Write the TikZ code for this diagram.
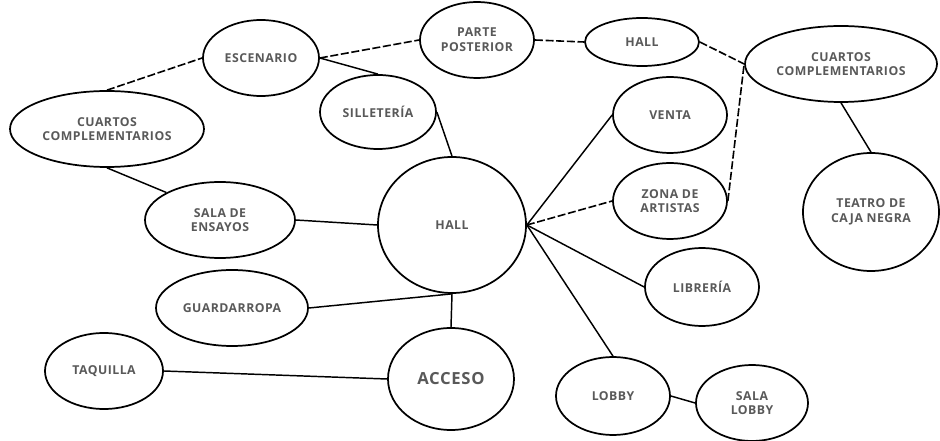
\documentclass[tikz,border=0pt]{standalone}
\usepackage{fontspec}
\setmainfont{Open Sans}[LetterSpace=4]
\usepackage{tikz}
\usetikzlibrary{shapes.geometric}

\begin{document}
\begin{tikzpicture}[x=0.75pt,y=-0.75pt]
    \tikzset{area/.style = {shape=ellipse, draw, line width=1.3pt, inner sep=0pt, align=center, text=black!65, font=\fontsize{9.2}{11}\selectfont\bfseries}}
    \tikzset{edgeun/.style = {-, line width=1.1pt}}
    \tikzset{edgedash/.style = {-, line width=1.2pt, dash pattern=on 6pt off 2pt}}

    \useasboundingbox (0,0) rectangle (940,441);

    \node[area, minimum width=87pt, minimum height=57pt] (escenario) at (261, 58) {ESCENARIO};
    \node[area, minimum width=85.5pt, minimum height=57pt] (parte) at (477, 40) {PARTE\\POSTERIOR};
    \node[area, minimum width=85.5pt, minimum height=36pt] (hallB) at (642, 42) {HALL};
    \node[area, minimum width=144pt, minimum height=57pt] (cuartosB) at (841, 64) {CUARTOS\\COMPLEMENTARIOS};
    \node[area, minimum width=145.5pt, minimum height=57pt] (cuartosA) at (107, 129) {CUARTOS\\COMPLEMENTARIOS};
    \node[area, minimum width=87pt, minimum height=55.5pt] (silleteria) at (378, 112) {SILLETERÍA};
    \node[area, minimum width=85.5pt, minimum height=57pt] (venta) at (670, 115) {VENTA};
    \node[area, minimum width=85.5pt, minimum height=57pt] (zona) at (670, 201) {ZONA DE\\ARTISTAS};
    \node[area, minimum width=102pt, minimum height=88.5pt] (teatro) at (871, 212) {TEATRO DE\\CAJA NEGRA};
    \node[area, minimum width=111pt, minimum height=102pt] (hall) at (452, 225) {HALL};
    \node[area, minimum width=112.5pt, minimum height=57pt] (ensayos) at (220, 220) {SALA DE\\ENSAYOS};
    \node[area, minimum width=114pt, minimum height=57pt] (guardarropa) at (232, 308) {GUARDARROPA};
    \node[area, minimum width=88.5pt, minimum height=57pt] (taquilla) at (104, 371) {TAQUILLA};
    \node[area, minimum width=94.5pt, minimum height=76.5pt, font=\fontsize{12.5}{14}\selectfont\bfseries] (acceso) at (451, 379) {ACCESO};
    \node[area, minimum width=85.5pt, minimum height=58.5pt] (libreria) at (702, 287) {LIBRERÍA};
    \node[area, minimum width=85.5pt, minimum height=58.5pt] (lobby) at (613, 396) {LOBBY};
    \node[area, minimum width=84pt, minimum height=57pt] (salalobby) at (752, 403) {SALA\\LOBBY};

    \draw[edgedash] (cuartosA.north) -- (escenario.west);
    \draw[edgedash] (escenario.east) -- (parte.west);
    \draw[edgedash] (parte.east) -- (hallB.west);
    \draw[edgedash] (hallB.east) -- (cuartosB.west);
    \draw[edgedash] (zona.east) -- (cuartosB.west);
    \draw[edgedash] (hall.east) -- (zona.west);

    \draw[edgeun] (escenario.east) -- (silleteria.north);
    \draw[edgeun] (silleteria.east) -- (hall.north);
    \draw[edgeun] (hall.east) -- (venta.west);
    \draw[edgeun] (hall.east) -- (libreria.west);
    \draw[edgeun] (hall.east) -- (lobby.north);
    \draw[edgeun] (lobby.east) -- (salalobby.west);
    \draw[edgeun] (cuartosB.south) -- (teatro.north);
    \draw[edgeun] (cuartosA.south) -- (ensayos.north west);
    \draw[edgeun] (ensayos.east) -- (hall.west);
    \draw[edgeun] (guardarropa.east) -- (hall.south);
    \draw[edgeun] (hall.south) -- (acceso.north);
    \draw[edgeun] (taquilla.east) -- (acceso.west);
\end{tikzpicture}
\end{document}
